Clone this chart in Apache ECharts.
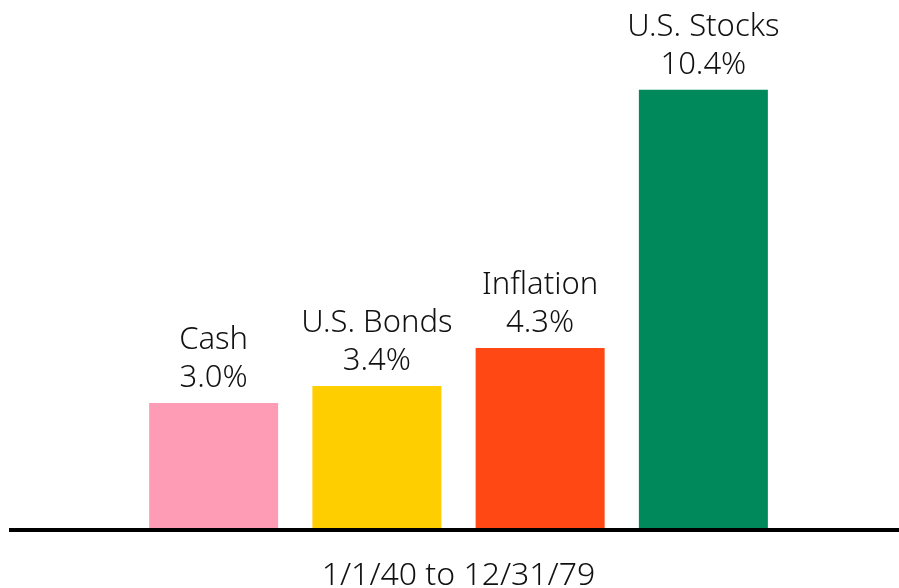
<!DOCTYPE html>
<html>
<head>
<meta charset="utf-8">
<script src="https://cdn.jsdelivr.net/npm/echarts@6/dist/echarts.min.js"></script>
<style>
  html, body { margin: 0; padding: 0; background: #fff; }
  #chart { width: 899px; height: 588px; }
</style>
</head>
<body>
<div id="chart"></div>
<script>
const categories = ['Cash', 'U.S. Bonds', 'Inflation', 'U.S. Stocks']
const returns = [3.0, 3.4, 4.3, 10.4]
const barColors = ['#ff9cb5', '#ffce00', '#ff4814', '#008a5c']
const periodLabel = '1/1/40 to 12/31/79'

const chart = echarts.init(document.getElementById('chart'))

chart.setOption({
  animation: false,
  textStyle: { fontFamily: 'Noto Sans' },
  grid: { left: 132, right: 114, top: 22, bottom: 58, outerBoundsMode: 'none', containLabel: false },
  xAxis: {
    type: 'category',
    data: categories,
    axisLine: { show: false },
    axisTick: { show: false },
    axisLabel: { show: false },
    name: periodLabel,
    nameLocation: 'middle',
    nameGap: 30,
    nameTextStyle: { fontSize: 32, color: '#111', fontWeight: 300, fontFamily: 'Noto Sans' },
  },
  yAxis: {
    type: 'value',
    min: 0,
    max: 12,
    show: false,
  },
  series: [
    {
      type: 'bar',
      barWidth: 129,
      data: returns.map((v, i) => ({
        value: v,
        itemStyle: { color: barColors[i] },
      })),
      label: {
        show: true,
        position: 'top',
        distance: 6,
        fontSize: 31,
        fontWeight: 300,
        lineHeight: 38,
        color: '#111',
        fontFamily: 'Noto Sans',
        formatter: p => p.name + '\n' + p.value.toFixed(1) + '%',
      },
    },
  ],
  graphic: [
    {
      type: 'line',
      z: 100,
      shape: { x1: 9, y1: 530, x2: 899, y2: 530 },
      style: { stroke: '#000', lineWidth: 4 },
    },
  ],
})

window.addEventListener('resize', () => chart.resize())
</script>
</body>
</html>
